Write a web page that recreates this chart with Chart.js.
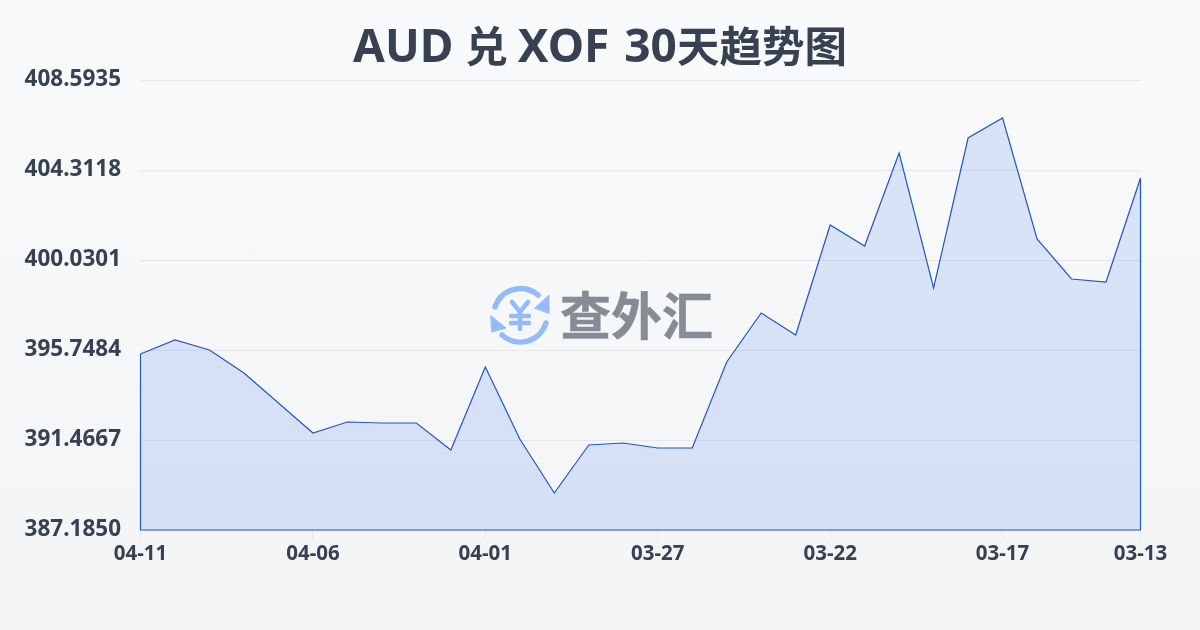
<!DOCTYPE html>
<html>
<head>
<meta charset="utf-8">
<script src="https://cdn.jsdelivr.net/npm/chart.js@4"></script>
<style>
  html, body { margin: 0; padding: 0; }
  #wrap { position: relative; width: 1200px; height: 630px; overflow: hidden;
    background: linear-gradient(180deg, #f8fafc 0%, #f3f4f6 100%); }
  #chart { position: absolute; left: 0; top: 0; }
  #title { position: absolute; left: 0; top: 8px; width: 1200px; text-align: center; white-space: nowrap;
    font: 700 46px/72px "Noto Sans", sans-serif; color: #374151; }
  #title span { font: 700 42.5px "Noto Sans CJK SC", sans-serif; }
  #title .gap { margin-right: -2px; }
  #title i { font-style: normal; margin-right: 3px; }
  #mark { position: absolute; left: 488px; top: 283px; }
  #markText { position: absolute; left: 560px; top: 278px; font: 700 51px/70px "Noto Sans CJK SC", sans-serif;
    color: #868b94; white-space: nowrap; -webkit-text-stroke: 0.5px #868b94; }
</style>
</head>
<body>
<div id="wrap">
  <canvas id="chart" width="1200" height="630"></canvas>
  <div id="title">AUD <span class="gap">兑</span> <i>XOF</i> 30<span>天趋势图</span></div>
  <svg id="mark" width="64" height="64" viewBox="0 0 64 64" fill="none" stroke="#93bbf9" stroke-linecap="round" stroke-linejoin="round">
    <path d="M7 24 A 27 27 0 0 1 50 12" stroke-width="5.5"/>
    <path d="M58 40 A 27 27 0 0 1 14 52" stroke-width="5.5"/>
    <path d="M47 25 L61 12 L61 30 Z" fill="#93bbf9" stroke="#93bbf9" stroke-width="1"/>
    <path d="M3 33 L18 45 L4 49 Z" fill="#93bbf9" stroke="#93bbf9" stroke-width="1"/>
    <path d="M24 19 L32 29 L40 19 M23 33 H41 M23 40 H41 M32 29 V46" stroke-width="4.5"/>
  </svg>
  <div id="markText">查外汇</div>
</div>
<script>
const dates = ["04-11","04-10","04-09","04-08","04-07","04-06","04-05","04-04","04-03","04-02",
  "04-01","03-31","03-30","03-29","03-28","03-27","03-26","03-25","03-24","03-23",
  "03-22","03-21","03-20","03-19","03-18","03-17","03-16","03-15","03-14","03-13"];
const rates = [395.558,396.224,395.748,394.654,393.227,391.800,392.323,392.275,392.275,390.991,
  394.940,391.514,388.945,391.229,391.324,391.086,391.086,395.177,397.509,396.462,
  401.695,400.696,405.121,398.698,405.834,406.786,401.029,399.126,398.983,403.931];
const yTicks = [387.1850,391.4667,395.7484,400.0301,404.3118,408.5935];
const xTickDates = ["04-11","04-06","04-01","03-27","03-22","03-17","03-13"];

const fontFamily = '"Noto Sans", "Noto Sans CJK SC", sans-serif';
const lineColor = "#2456c0";
const textColor = "#374151";

// closes the area: left edge, baseline and right edge in the line colour
const outline = {
  id: "outline",
  afterDatasetsDraw(chart) {
    const pts = chart.getDatasetMeta(0).data;
    const first = pts[0], last = pts[pts.length - 1];
    const base = chart.scales.y.getPixelForValue(yTicks[0]);
    const ctx = chart.ctx;
    ctx.save();
    ctx.strokeStyle = lineColor;
    ctx.lineWidth = 1.2;
    ctx.beginPath();
    ctx.moveTo(first.x, first.y);
    ctx.lineTo(first.x, base);
    ctx.lineTo(last.x, base);
    ctx.lineTo(last.x, last.y);
    ctx.stroke();
    ctx.restore();
  }
};

new Chart(document.getElementById("chart"), {
  type: "line",
  plugins: [outline],
  data: {
    labels: dates,
    datasets: [{
      data: rates,
      borderColor: lineColor,
      borderWidth: 1.2,
      backgroundColor: "rgba(37,99,235,0.14)",
      fill: "start",
      tension: 0,
      pointRadius: 0
    }]
  },
  options: {
    responsive: false,
    animation: false,
    devicePixelRatio: 1,
    layout: { padding: { left: 0, right: 59.5, top: 80, bottom: 0 } },
    plugins: {
      legend: { display: false },
      tooltip: { enabled: false },
      title: { display: false }
    },
    scales: {
      x: {
        type: "category",
        offset: false,
        afterBuildTicks(scale) {
          scale.ticks = scale.ticks.filter(t => xTickDates.includes(dates[t.value]));
        },
        afterFit(scale) { scale.height = 100; },
        grid: { drawOnChartArea: false, drawTicks: true, tickLength: 9, color: "#e5e7eb", tickColor: "#e5e7eb" },
        border: { display: false },
        ticks: {
          autoSkip: false, maxRotation: 0, minRotation: 0, padding: 3,
          color: textColor,
          font: { family: fontFamily, size: 20.5, weight: "bold" }
        }
      },
      y: {
        min: yTicks[0],
        max: yTicks[yTicks.length - 1],
        afterBuildTicks(scale) { scale.ticks = yTicks.map(v => ({ value: v })); },
        afterFit(scale) { scale.width = 140.5; },
        grid: { drawTicks: false, color: "#e5e7eb", lineWidth: 1 },
        border: { display: false },
        ticks: {
          padding: 19.5,
          color: textColor,
          font: { family: fontFamily, size: 22.5, weight: "bold" },
          callback: v => v.toFixed(4)
        }
      }
    }
  }
});
</script>
</body>
</html>
